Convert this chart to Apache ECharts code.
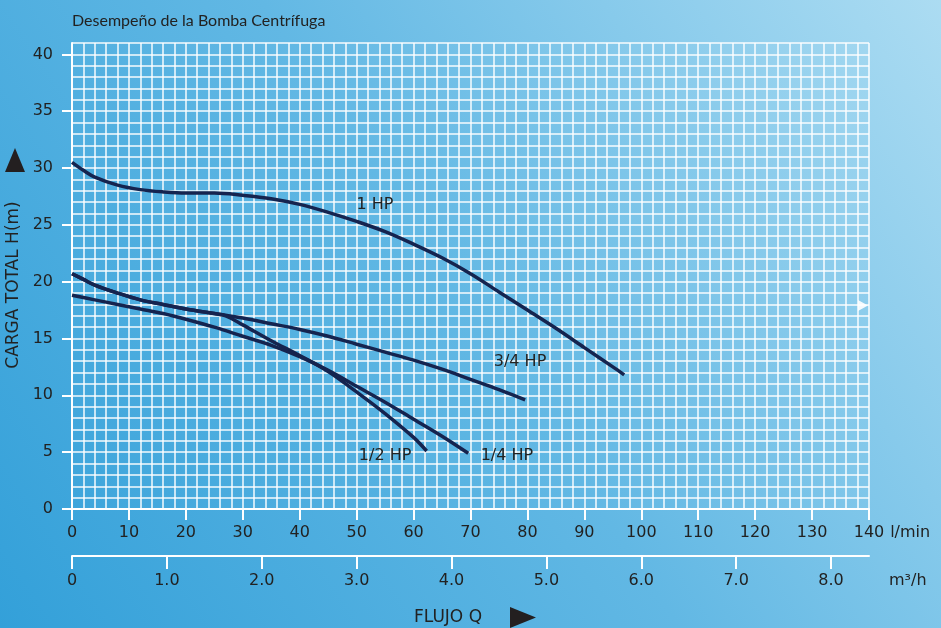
<!DOCTYPE html>
<html>
<head>
<meta charset="utf-8">
<script src="https://cdn.jsdelivr.net/npm/echarts@6/dist/echarts.min.js"></script>
<style>
html,body{margin:0;padding:0;width:941px;height:628px;overflow:hidden;}
#chart{width:941px;height:628px;}
</style>
</head>
<body>
<div id="chart"></div>
<script>
// Tick labels
const lpmTicks = [0,10,20,30,40,50,60,70,80,90,100,110,120,130,140];
const m3hTicks = [0,1,2,3,4,5,6,7,8];
const headTicks = [0,5,10,15,20,25,30,35,40];

// Pump curves: [flow l/min, head m]
const hp1 = [[0,30.5],[2,29.8],[4,29.2],[8,28.5],[12,28.1],[16,27.9],[20,27.8],[25,27.8],[30,27.6],[35,27.3],[40,26.8],[45,26.1],[50,25.3],[55,24.4],[60,23.3],[65,22.1],[70,20.7],[75,19.1],[80,17.5],[85,15.9],[90,14.2],[95,12.5],[97,11.8]];
const hp34 = [[0,20.7],[2,20.2],[4,19.7],[8,19.0],[12,18.4],[16,18.0],[20,17.6],[25,17.2],[30,16.8],[35,16.3],[40,15.8],[45,15.2],[50,14.5],[55,13.8],[60,13.1],[65,12.3],[70,11.4],[75,10.5],[79.6,9.6]];
const hp12 = [[0,20.7],[2,20.2],[4,19.7],[8,19.0],[12,18.4],[16,18.0],[20,17.6],[25,17.2],[27,17.0],[30,16.2],[35,14.8],[40,13.5],[45,12.1],[50,10.3],[55,8.4],[60,6.3],[62.3,5.1]];
const hp14 = [[0,18.8],[4,18.4],[8,18.0],[12,17.6],[16,17.2],[20,16.7],[25,16.0],[30,15.2],[35,14.4],[40,13.4],[45,12.2],[50,10.8],[55,9.4],[60,7.9],[65,6.4],[69.6,4.9]];

const seriesNames = ['1 HP','3/4 HP','1/2 HP','1/4 HP'];
const labelAnchors = [[53.2,26.8],[78.7,12.95],[55.0,4.7],[76.4,4.7]];

const ink = '#222222';
const font = 'DejaVu Sans';
const curveColor = '#15244f';
const gridColor = 'rgba(255,255,255,0.95)';

const chart = echarts.init(document.getElementById('chart'), null, {renderer:'canvas'});

function curve(name, data, anchor){
  return {
    name: name, type:'line', data: data, xAxisIndex:0, yAxisIndex:0,
    smooth: 0.35, showSymbol:false, symbol:'none',
    lineStyle:{color:curveColor, width:3.5},
    z: 5,
    markPoint:{
      symbol:'circle', symbolSize:1,
      itemStyle:{color:'rgba(0,0,0,0)'},
      label:{show:true, position:'inside', formatter:'{b}', color:ink, fontSize:16, fontFamily:font, letterSpacing:0.8},
      data:[{name:name, coord:anchor}]
    }
  };
}

const hiddenParts = {axisLine:{show:false}, axisTick:{show:false}, axisLabel:{show:false}};

const option = {
  animation:false,
  backgroundColor:{type:'linear', x:0, y:1, x2:1, y2:0,
    colorStops:[{offset:0,color:'#33a0d9'},{offset:0.5,color:'#62b8e4'},{offset:1,color:'#acdcf2'}]},
  textStyle:{fontFamily:font},
  title:{text:'Desempeño de la Bomba Centrífuga', left:67, top:8,
    textStyle:{fontFamily:'Lato', fontSize:16, fontWeight:'normal', color:ink}},
  grid:{left:72, right:72, top:43, bottom:119, outerBoundsMode:'none', containLabel:false},
  xAxis:[
    {type:'value', min:0, max:140, interval:10, position:'bottom',
     axisLine:{show:true, onZero:false, lineStyle:{color:'#fff', width:2}},
     axisTick:{show:true, customValues:lpmTicks, length:11, lineStyle:{color:'#fff', width:2}},
     axisLabel:{customValues:lpmTicks, margin:16, color:ink, fontSize:16, fontFamily:font},
     splitLine:{show:false},
     name:'l/min', nameLocation:'end', nameGap:20,
     nameTextStyle:{color:ink, fontSize:16, fontFamily:font, letterSpacing:1.5, verticalAlign:'top', padding:[16,0,0,0]}},
    {type:'value', min:0, max:8.4, interval:1, position:'bottom', offset:47,
     axisLine:{show:true, onZero:false, lineStyle:{color:'#fff', width:2}},
     axisTick:{show:true, customValues:m3hTicks, length:13, lineStyle:{color:'#fff', width:2}},
     axisLabel:{customValues:m3hTicks, margin:17, color:ink, fontSize:16, fontFamily:font,
       formatter:function(v){return v===0?'0':v.toFixed(1);}},
     splitLine:{show:false},
     name:'m³/h', nameLocation:'end', nameGap:20,
     nameTextStyle:{color:ink, fontSize:16, fontFamily:font, letterSpacing:1, verticalAlign:'top', padding:[17,0,0,0]}},
    Object.assign({type:'value', min:0, max:140, interval:2, position:'top',
     splitLine:{show:true, lineStyle:{color:gridColor, width:1.5}}}, hiddenParts)
  ],
  yAxis:[
    {type:'value', min:0, max:41, interval:1,
     axisLine:{show:true, onZero:false, lineStyle:{color:'#fff', width:2}},
     axisTick:{show:true, customValues:headTicks, length:10, lineStyle:{color:'#fff', width:2}},
     axisLabel:{customValues:headTicks, margin:19, color:ink, fontSize:16, fontFamily:font},
     splitLine:{show:false},
     name:'CARGA TOTAL H(m)', nameLocation:'middle', nameGap:48,
     nameTextStyle:{color:ink, fontSize:17, fontFamily:font, letterSpacing:0.6, padding:[0,18,0,0]}},
    Object.assign({type:'value', min:0, max:41, interval:1, position:'right',
     splitLine:{show:true, lineStyle:{color:gridColor, width:1.5}}}, hiddenParts)
  ],
  series:[
    curve(seriesNames[0], hp1, labelAnchors[0]),
    curve(seriesNames[1], hp34, labelAnchors[1]),
    curve(seriesNames[2], hp12, labelAnchors[2]),
    curve(seriesNames[3], hp14, labelAnchors[3])
  ],
  graphic:[
    {type:'polygon', shape:{points:[[5,172],[25,172],[15,148]]}, style:{fill:'#231f20'}},
    {type:'polygon', shape:{points:[[510,607],[510,628],[536,617.5]]}, style:{fill:'#231f20'}},
    {type:'polygon', shape:{points:[[858,300],[858,311],[868,305.5]]}, style:{fill:'rgba(255,255,255,0.9)'}},
    {type:'text', left:414, top:609, style:{text:'FLUJO Q', fill:ink, fontSize:17, fontFamily:font, letterSpacing:1.2}}
  ]
};
chart.setOption(option);
</script>
</body>
</html>
